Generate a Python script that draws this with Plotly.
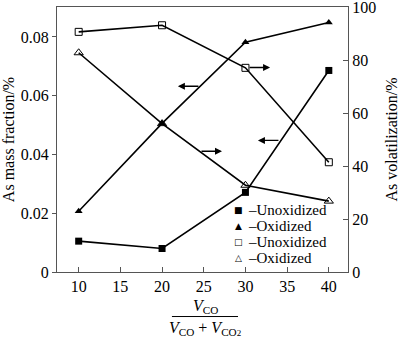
import plotly.graph_objects as go

# CO share of the reducing gas, %
co_share = [10, 20, 30, 40]

# As mass fraction in the product, % (left axis)
mass_unoxidized = [0.0105, 0.0080, 0.0271, 0.0686]
mass_oxidized = [0.0207, 0.0506, 0.0782, 0.0849]

# As volatilization, % (right axis)
vol_unoxidized = [90.8, 93.3, 77.2, 41.5]
vol_oxidized = [82.9, 56.1, 32.8, 26.8]

legend_labels = ["Unoxidized", "Oxidized", "Unoxidized", "Oxidized"]
legend_glyphs = ["\u25A0", "\u25B2", "\u25A1", "\u25B3"]

FONT = "Liberation Serif, Times New Roman, serif"
AXIS_COLOR = "#555555"

fig = go.Figure()

line_style = dict(color="black", width=1.6)

fig.add_trace(go.Scatter(
    x=co_share, y=mass_unoxidized, mode="lines+markers", name=legend_labels[0],
    line=line_style, marker=dict(symbol="square", size=7, color="black"),
    yaxis="y", showlegend=False))
fig.add_trace(go.Scatter(
    x=co_share, y=mass_oxidized, mode="lines+markers", name=legend_labels[1],
    line=line_style, marker=dict(symbol="triangle-up", size=7, color="black"),
    yaxis="y", showlegend=False))
fig.add_trace(go.Scatter(
    x=co_share, y=vol_unoxidized, mode="lines+markers", name=legend_labels[2],
    line=line_style,
    marker=dict(symbol="square-open", size=7, color="black", line=dict(width=1)),
    yaxis="y2", showlegend=False))
fig.add_trace(go.Scatter(
    x=co_share, y=vol_oxidized, mode="lines+markers", name=legend_labels[3],
    line=line_style,
    marker=dict(symbol="triangle-up-open", size=8, color="black", line=dict(width=1)),
    yaxis="y2", showlegend=False))

annotations = []

# Arrows telling which axis each curve belongs to (head position, tail offset in px)
arrows = [
    (21.9, 0.0632, 22),    # As mass fraction, oxidized -> left axis
    (32.95, 0.0696, -22),  # volatilization, unoxidized -> right axis
    (27.19, 0.0411, -22),  # volatilization, oxidized -> right axis
    (31.5, 0.0448, 22),    # As mass fraction, unoxidized -> left axis
]
for ax_x, ax_y, tail in arrows:
    annotations.append(dict(
        x=ax_x, y=ax_y, xref="x", yref="y", text="", showarrow=True,
        arrowhead=2, arrowsize=1, arrowwidth=1.4, arrowcolor="black",
        ax=tail, ay=0))

# Legend key: marker glyph followed by a dash and the label
legend_rows = [0.234, 0.173, 0.113, 0.051]
for glyph, label, yy in zip(legend_glyphs, legend_labels, legend_rows):
    annotations.append(dict(
        x=0.625, y=yy, xref="paper", yref="paper", text=glyph,
        showarrow=False, xanchor="center", yanchor="middle",
        font=dict(family="DejaVu Sans", size=9, color="black")))
    annotations.append(dict(
        x=0.650, y=yy, xref="paper", yref="paper", text="\u2013" + label,
        showarrow=False, xanchor="left", yanchor="middle",
        font=dict(family=FONT, size=15, color="black")))

# x-axis title as a stacked fraction
annotations.append(dict(
    x=0.509, y=-0.130, xref="paper", yref="paper",
    text="<i>V</i><sub>CO</sub>", showarrow=False,
    xanchor="center", yanchor="middle",
    font=dict(family=FONT, size=16, color="black")))
annotations.append(dict(
    x=0.509, y=-0.214, xref="paper", yref="paper",
    text="<i>V</i><sub>CO</sub> + <i>V</i><sub>CO<span style='font-size:9px'>2</span></sub>",
    showarrow=False, xanchor="center", yanchor="middle",
    font=dict(family=FONT, size=16, color="black")))

fig.update_layout(
    width=400, height=340,
    margin=dict(l=57, r=52, t=7, b=68),
    paper_bgcolor="white", plot_bgcolor="white",
    font=dict(family=FONT, size=16, color="black"),
    showlegend=False,
    annotations=annotations,
    shapes=[dict(type="line", xref="paper", yref="paper",
                 x0=0.395, x1=0.622, y0=-0.168, y1=-0.168,
                 line=dict(color="black", width=1))],
    xaxis=dict(
        range=[7.4, 42.3], tickvals=[10, 15, 20, 25, 30, 35, 40],
        ticks="inside", ticklen=5, tickcolor=AXIS_COLOR,
        showline=True, linecolor=AXIS_COLOR, linewidth=1.2, mirror=True,
        showgrid=False, zeroline=False, automargin=False,
        tickfont=dict(family=FONT, size=16)),
    yaxis=dict(
        range=[0, 0.0902], tickvals=[0, 0.02, 0.04, 0.06, 0.08],
        ticktext=["0", "0.02", "0.04", "0.06", "0.08"],
        ticks="outside", ticklen=4, tickcolor=AXIS_COLOR,
        showline=True, linecolor=AXIS_COLOR, linewidth=1.2,
        showgrid=False, zeroline=False, automargin=False,
        title=dict(text="As mass fraction/%", font=dict(family=FONT, size=16),
                   standoff=8),
        tickfont=dict(family=FONT, size=16)),
    yaxis2=dict(
        range=[0, 100.2], tickvals=[0, 20, 40, 60, 80, 100],
        overlaying="y", side="right",
        ticks="inside", ticklen=5, tickcolor=AXIS_COLOR,
        showline=True, linecolor=AXIS_COLOR, linewidth=1.2,
        showgrid=False, zeroline=False, automargin=False,
        ticklabeloverflow="allow",
        title=dict(text="As volatilization/%", font=dict(family=FONT, size=16),
                   standoff=22),
        tickfont=dict(family=FONT, size=16)),
)

fig.write_html("out.html")
